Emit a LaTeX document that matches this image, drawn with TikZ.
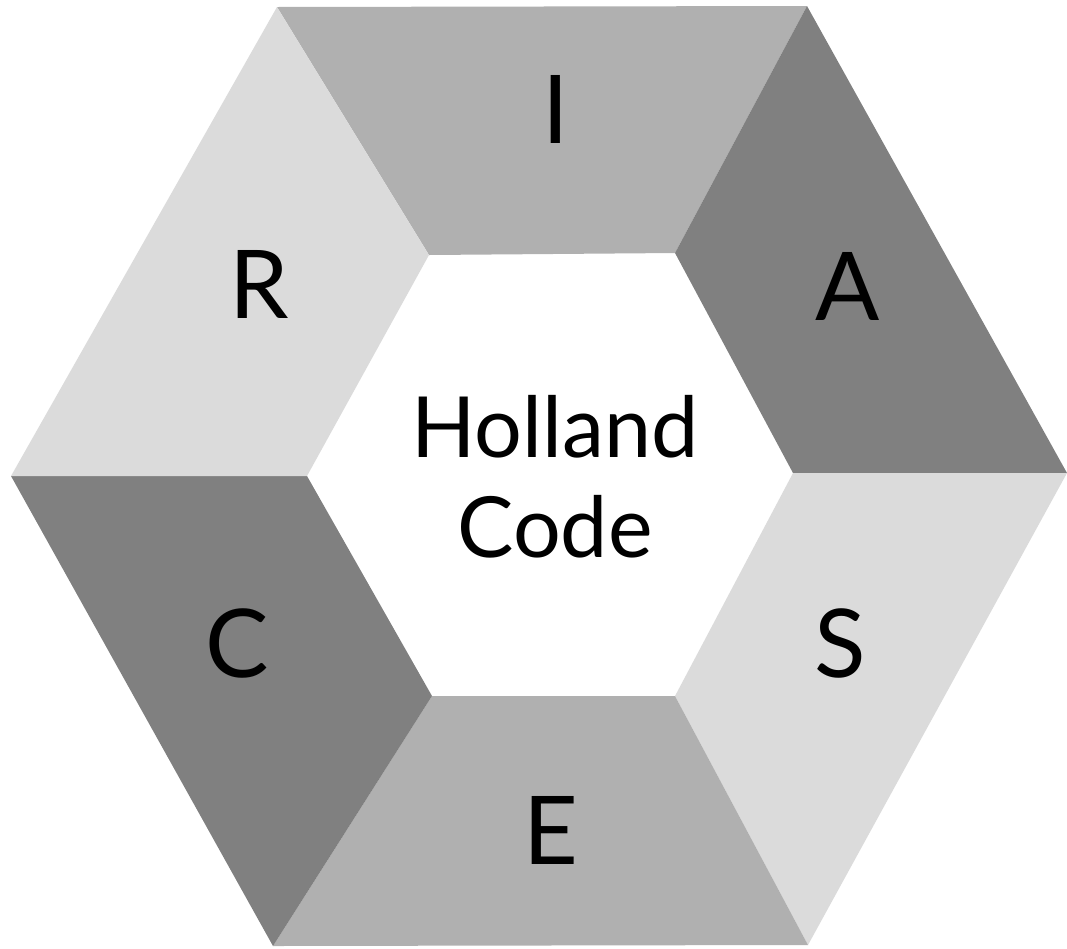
\documentclass[tikz,border=0pt]{standalone}
\usepackage{fontspec}
\setmainfont{Lato}
\usetikzlibrary{positioning}

\begin{document}
\begin{tikzpicture}
		[x=0.01cm, y=-0.01cm,
		lightsty/.style={fill=black!14},
		midsty/.style={fill=black!31},
		darksty/.style={fill=black!50},
		lettersty/.style={anchor=base, inner sep=0pt, font=\fontsize{27}{30}\selectfont},
		titlesty/.style={anchor=base, inner sep=0pt, font=\fontsize{24}{28}\selectfont}]
		\useasboundingbox (0,0) rectangle (1067,948);
		
		% outer corners
		\coordinate (outer 1) at (277,7);
		\coordinate (outer 2) at (807,6);
		\coordinate (outer 3) at (1067,473);
		\coordinate (outer 4) at (808,945);
		\coordinate (outer 5) at (273,946);
		\coordinate (outer 6) at (11,476);
		% inner corners
		\coordinate (inner 1) at (429,255);
		\coordinate (inner 2) at (675,253);
		\coordinate (inner 3) at (793,473);
		\coordinate (inner 4) at (675,696);
		\coordinate (inner 5) at (432,696);
		\coordinate (inner 6) at (307,476);
		
		\fill[midsty]   (outer 1) -- (outer 2) -- (inner 2) -- (inner 1) -- cycle;
		\fill[darksty]  (outer 2) -- (outer 3) -- (inner 3) -- (inner 2) -- cycle;
		\fill[lightsty] (outer 3) -- (outer 4) -- (inner 4) -- (inner 3) -- cycle;
		\fill[midsty]   (outer 4) -- (outer 5) -- (inner 5) -- (inner 4) -- cycle;
		\fill[darksty]  (outer 5) -- (outer 6) -- (inner 6) -- (inner 5) -- cycle;
		\fill[lightsty] (outer 6) -- (outer 1) -- (inner 1) -- (inner 6) -- cycle;
		
		\node (letter I) at (556,143) [lettersty] {I};
		\node (letter A) at (848,320) [lettersty] {A};
		\node (letter S) at (840,677) [lettersty] {S};
		\node (letter E) at (551,864) [lettersty] {E};
		\node (letter C) at (237,677) [lettersty] {C};
		\node (letter R) at (259,318) [lettersty] {R};
		
		\node (title 1) at (555,457) [titlesty] {Holland};
		\node (title 2) at (555,557) [titlesty] {Code};
	\end{tikzpicture}
\end{document}
